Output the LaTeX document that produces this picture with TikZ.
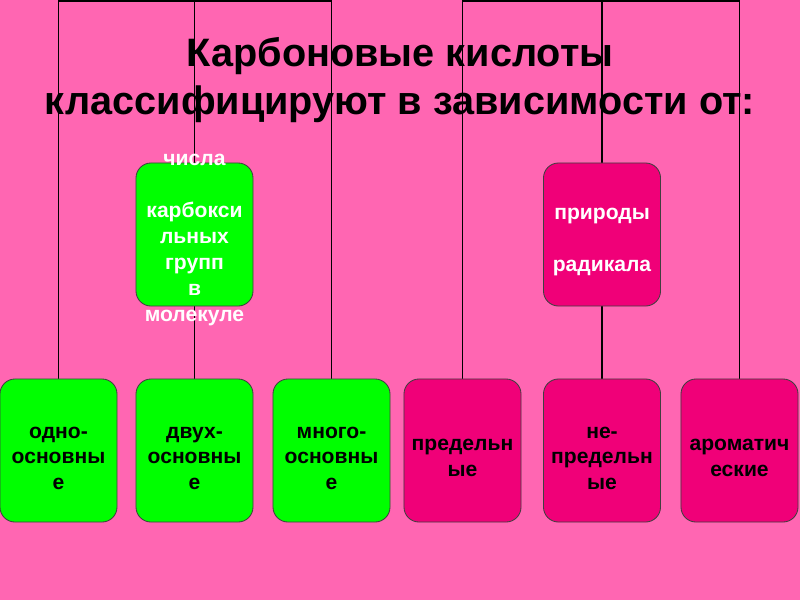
\documentclass[tikz,border=0pt]{standalone}
\usepackage{fontspec}
\setmainfont{Liberation Sans}
\usetikzlibrary{backgrounds}
\pgfdeclarelayer{paper}
\pgfsetlayers{paper,background,main}
\definecolor{pagebg}{RGB}{255,102,178}
\definecolor{acidgreen}{RGB}{0,255,0}
\definecolor{acidpink}{RGB}{240,0,120}
\begin{document}
\begin{tikzpicture}[
  x=0.025cm, y=-0.025cm,
  box/.style={draw=black!75, line width=0.6pt, rounded corners=0.375cm,
    minimum width=2.925cm, minimum height=3.575cm, text width=2.85cm,
    inner sep=0pt, align=center, font=\bfseries\fontsize{15}{18.3}\selectfont,
    execute at begin node={\rule{0pt}{19pt}}},
  greenbox/.style={box, fill=acidgreen},
  pinkbox/.style={box, fill=acidpink},
  boxtext/.style={text=white, align=center, font=\bfseries\fontsize{15}{18.6}\selectfont},
  title/.style={align=center, font=\bfseries\fontsize{28.2}{34}\selectfont},
  link/.style={line width=1.2pt}
]
\useasboundingbox (0,0) rectangle (800,600);
\begin{pgfonlayer}{paper}
  \fill[pagebg] (0,0) rectangle (800,600);
\end{pgfonlayer}
\node[title] (head) at (400,80) {Карбоновые кислоты\\классифицируют в зависимости от:};
% upper boxes
\node[greenbox] (count) at (194.5,234.5) {};
\node[boxtext] at (194.5,240) {числа\\[18.6pt]карбокси\\льных\\групп\\в\\молекуле};
\node[pinkbox, text=white] (radical) at (602,234.5) {природы\\[18.6pt]радикала};
% lower boxes
\foreach \n/\x/\t in {one/58.5/{одно-\\основны\\е}, two/194.5/{двух-\\основны\\е}, many/331.5/{много-\\основны\\е}} {
  \node[greenbox] (\n) at (\x,450.5) {\t};
}
\foreach \n/\x/\t in {sat/462.5/{предельн\\ые}, unsat/602/{не-\\предельн\\ые}, arom/739.5/{ароматич\\еские}} {
  \node[pinkbox] (\n) at (\x,450.5) {\t};
}
\coordinate (top) at (59,1);
\begin{scope}[on background layer]
  \draw[link] (one.north) -- (one.north |- top) -- (many.north |- top) -- (many.north);
  \draw[link] (two.north) -- (two.north |- top);
  \draw[link] (sat.north) -- (sat.north |- top) -- (arom.north |- top) -- (arom.north);
  \draw[link] (unsat.north) -- (unsat.north |- top);
\end{scope}
\end{tikzpicture}
\end{document}
